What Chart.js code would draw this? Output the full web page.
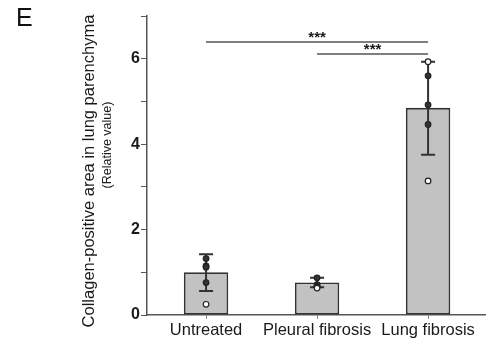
<!DOCTYPE html>
<html>
<head>
<meta charset="utf-8">
<script src="https://cdn.jsdelivr.net/npm/chart.js@4"></script>
<style>
  html, body { margin: 0; padding: 0; background: #fff; }
  #wrap { width: 491px; height: 342px; }
</style>
</head>
<body>
<div id="wrap"><canvas id="collagenChart"></canvas></div>
<script>
var categories = ["Untreated", "Pleural fibrosis", "Lung fibrosis"];
var means = [1.0, 0.76, 4.85];
var errLow = [0.56, 0.65, 3.75];
var errHigh = [1.42, 0.87, 5.93];
var untreatedPts = [1.32, 1.15, 1.12, 0.76, 0.25];
var pleuralPts = [0.87, 0.71, 0.68, 0.66, 0.63];
var lungPts = [5.93, 5.6, 4.92, 4.46, 3.14];
var yTicks = [0, 2, 4, 6];
var sigPairs = [[0, 2], [1, 2]];
var sigLevels = [6.39, 6.11];
var sigLabels = ["***", "***"];

var groups = [untreatedPts, pleuralPts, lungPts];
var scatterData = [];
var hollow = [];
groups.forEach(function (pts, g) {
  var lo = Math.min.apply(null, pts);
  pts.forEach(function (v) {
    scatterData.push({ x: g, y: v });
    hollow.push(v === lo || (g === 2 && v === Math.max.apply(null, pts)));
  });
});

var axisColor = "#555";
var textColor = "#1a1a1a";

var overlay = {
  id: "overlay",
  afterDatasetDraw: function (chart, args) {
    if (args.index !== 1) return;
    var ctx = chart.ctx, xs = chart.scales.x, ys = chart.scales.y;
    ctx.save();
    ctx.strokeStyle = "#333";
    ctx.lineWidth = 2;
    means.forEach(function (m, i) {
      var x = xs.getPixelForValue(i);
      var yl = ys.getPixelForValue(errLow[i]);
      var yh = ys.getPixelForValue(errHigh[i]);
      ctx.beginPath();
      ctx.moveTo(x, yl); ctx.lineTo(x, yh);
      ctx.moveTo(x - 7, yh); ctx.lineTo(x + 7, yh);
      ctx.moveTo(x - 7, yl); ctx.lineTo(x + 7, yl);
      ctx.stroke();
    });
    ctx.restore();
  },
  afterDraw: function (chart) {
    var ctx = chart.ctx, xs = chart.scales.x, ys = chart.scales.y;
    ctx.save();
    // significance brackets
    ctx.strokeStyle = axisColor;
    ctx.lineWidth = 1.5;
    ctx.fillStyle = textColor;
    ctx.font = "bold 15px 'Liberation Sans', Arial, sans-serif";
    ctx.textAlign = "center";
    ctx.textBaseline = "bottom";
    sigPairs.forEach(function (p, i) {
      var x1 = xs.getPixelForValue(p[0]);
      var x2 = xs.getPixelForValue(p[1]);
      var y = ys.getPixelForValue(sigLevels[i]);
      ctx.beginPath();
      ctx.moveTo(x1, y); ctx.lineTo(x2, y);
      ctx.stroke();
      ctx.fillText(sigLabels[i], (x1 + x2) / 2, y + 3);
    });
    // y axis titles
    ctx.translate(89, 171);
    ctx.rotate(-Math.PI / 2);
    ctx.textBaseline = "middle";
    ctx.font = "16.5px 'Liberation Sans', Arial, sans-serif";
    ctx.fillText("Collagen-positive area in lung parenchyma", 0, 0);
    ctx.font = "12.5px 'Liberation Sans', Arial, sans-serif";
    ctx.fillText("(Relative value)", 26, 19);
    ctx.restore();
    // panel letter
    ctx.save();
    ctx.fillStyle = "#111";
    ctx.font = "25px 'Liberation Sans', Arial, sans-serif";
    ctx.textBaseline = "top";
    ctx.fillText("E", 16, 7);
    ctx.restore();
  }
};

new Chart("collagenChart", {
  data: {
    datasets: [{
      type: "scatter",
      data: scatterData,
      order: 0,
      pointRadius: 2.8,
      pointBorderWidth: 1.2,
      pointBorderColor: "#222",
      pointBackgroundColor: hollow.map(function (h) { return h ? "#fff" : "#333"; })
    },
    {
      type: "bar",
      data: means.map(function (v, i) { return { x: i, y: v }; }),
      order: 1,
      backgroundColor: "#c2c2c2",
      borderColor: "#333",
      borderWidth: 1.8,
      borderSkipped: false,
      barPercentage: 0.4,
      categoryPercentage: 1
    }]
  },
  plugins: [overlay],
  options: {
    responsive: true,
    maintainAspectRatio: false,
    animation: false,
    events: [],
    layout: { padding: { left: 0, right: 1, top: 16, bottom: 0 } },
    plugins: {
      legend: { display: false },
      tooltip: { enabled: false }
    },
    scales: {
      x: {
        type: "linear",
        offset: false,
        min: -0.532,
        max: 2.52,
        afterBuildTicks: function (scale) {
          scale.ticks = categories.map(function (c, i) { return { value: i }; });
        },
        afterFit: function (scale) { scale.height = 27; },
        grid: { offset: false, drawOnChartArea: false, drawTicks: true, tickLength: 4, color: "#888", lineWidth: 1 },
        border: { display: true, color: axisColor, width: 1.5 },
        ticks: {
          autoSkip: false,
          maxRotation: 0,
          padding: 2,
          color: textColor,
          font: { family: "'Liberation Sans', Arial, sans-serif", size: 16.5 },
          callback: function (v) { return categories[v]; }
        }
      },
      y: {
        min: 0,
        max: 7,
        afterFit: function (scale) { scale.width = 147; },
        grid: { drawOnChartArea: false, drawTicks: true, tickLength: 6, color: axisColor, lineWidth: 1 },
        border: { display: true, color: axisColor, width: 1.5 },
        ticks: {
          stepSize: 1,
          autoSkip: false,
          padding: 1,
          color: textColor,
          font: { family: "'Liberation Sans', Arial, sans-serif", size: 16, weight: "bold" },
          callback: function (v) { return yTicks.indexOf(v) >= 0 ? v : ""; }
        }
      }
    }
  }
});
</script>
</body>
</html>
